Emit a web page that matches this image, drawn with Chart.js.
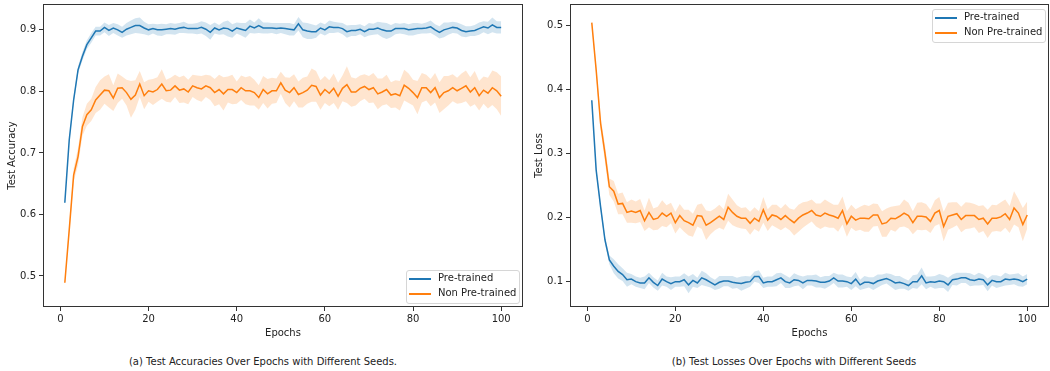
<!DOCTYPE html>
<html>
<head>
<meta charset="utf-8">
<script src="https://cdn.jsdelivr.net/npm/chart.js@4.4.1/dist/chart.umd.min.js"></script>
<style>
  body { margin: 0; background: #fff; font-family: "DejaVu Sans", sans-serif; }
  #page { position: relative; width: 1050px; height: 371px; overflow: hidden; }
  .panel { position: absolute; top: 0; height: 345px; }
  .caption { position: absolute; top: 356px; font-size: 10px; color: #222; white-space: nowrap; transform: translateX(-50%); }
  .legend { position: absolute; background: rgba(255,255,255,0.85); border: 1px solid #d6d6d6; border-radius: 3px; font-size: 10px; color: #222; }
  .legend .item { position: absolute; left: 31px; white-space: nowrap; }
  .legend .swatch { position: absolute; left: -29px; top: 6px; width: 22px; height: 1.5px; }
</style>
</head>
<body>
<div id="page">
  <div class="panel" style="left:0;width:526px"><canvas id="accChart"></canvas></div>
  <div class="panel" style="left:527px;width:523px"><canvas id="lossChart"></canvas></div>

  <div class="legend" style="left:406px;top:270px;width:112px;height:32px">
    <div class="item" style="top:1px"><span class="swatch" style="background:#1f77b4"></span>Pre-trained</div>
    <div class="item" style="top:16px"><span class="swatch" style="background:#ff7f0e"></span>Non Pre-trained</div>
  </div>
  <div class="legend" style="left:932px;top:9px;width:112px;height:32px">
    <div class="item" style="top:1px"><span class="swatch" style="background:#1f77b4"></span>Pre-trained</div>
    <div class="item" style="top:16px"><span class="swatch" style="background:#ff7f0e"></span>Non Pre-trained</div>
  </div>

  <div class="caption" style="left:263px">(a) Test Accuracies Over Epochs with Different Seeds.</div>
  <div class="caption" style="left:794px">(b) Test Losses Over Epochs with Different Seeds</div>
</div>
<script>
const epochs = Array.from({ length: 100 }, (_, i) => i + 1);
const xTicks = [0, 20, 40, 60, 80, 100];
const accTicks = [0.5, 0.6, 0.7, 0.8, 0.9];
const lossTicks = [0.1, 0.2, 0.3, 0.4, 0.5];

const accPre = [
  0.619, 0.721, 0.786, 0.835, 0.857, 0.876, 0.887, 0.898, 0.898, 0.904,
  0.899, 0.903, 0.900, 0.896, 0.901, 0.904, 0.907, 0.907, 0.903, 0.900,
  0.902, 0.900, 0.900, 0.901, 0.902, 0.901, 0.903, 0.904, 0.902, 0.902,
  0.902, 0.904, 0.901, 0.896, 0.903, 0.900, 0.903, 0.902, 0.898, 0.903,
  0.901, 0.899, 0.906, 0.903, 0.907, 0.903, 0.903, 0.903, 0.902, 0.903,
  0.902, 0.901, 0.900, 0.910, 0.900, 0.898, 0.897, 0.897, 0.903, 0.900,
  0.905, 0.904, 0.904, 0.902, 0.897, 0.899, 0.899, 0.901, 0.897, 0.901,
  0.901, 0.903, 0.900, 0.898, 0.898, 0.902, 0.902, 0.902, 0.900, 0.901,
  0.902, 0.902, 0.903, 0.905, 0.900, 0.896, 0.900, 0.902, 0.904, 0.903,
  0.899, 0.897, 0.898, 0.899, 0.902, 0.905, 0.903, 0.908, 0.904, 0.904
];
const accPreStd = [
  0.003, 0.004, 0.005, 0.006, 0.007, 0.007, 0.008, 0.007, 0.007, 0.008,
  0.009, 0.008, 0.009, 0.009, 0.010, 0.011, 0.012, 0.013, 0.010, 0.009,
  0.008, 0.009, 0.010, 0.008, 0.009, 0.009, 0.008, 0.009, 0.008, 0.008,
  0.009, 0.010, 0.011, 0.012, 0.009, 0.008, 0.010, 0.013, 0.011, 0.009,
  0.010, 0.012, 0.011, 0.009, 0.012, 0.009, 0.009, 0.008, 0.009, 0.008,
  0.009, 0.010, 0.009, 0.011, 0.012, 0.013, 0.012, 0.010, 0.009, 0.009,
  0.010, 0.009, 0.008, 0.009, 0.010, 0.009, 0.009, 0.008, 0.009, 0.010,
  0.009, 0.010, 0.012, 0.013, 0.010, 0.009, 0.008, 0.009, 0.009, 0.010,
  0.009, 0.008, 0.009, 0.010, 0.009, 0.010, 0.012, 0.010, 0.009, 0.009,
  0.010, 0.009, 0.008, 0.009, 0.010, 0.009, 0.010, 0.012, 0.010, 0.010
];
const accNon = [
  0.489, 0.575, 0.664, 0.694, 0.743, 0.762, 0.770, 0.786, 0.794, 0.802,
  0.801, 0.789, 0.805, 0.806, 0.798, 0.787, 0.794, 0.812, 0.793, 0.801,
  0.799, 0.803, 0.812, 0.801, 0.802, 0.809, 0.802, 0.804, 0.799, 0.809,
  0.806, 0.804, 0.809, 0.806, 0.798, 0.803, 0.796, 0.803, 0.803, 0.798,
  0.806, 0.801, 0.801, 0.798, 0.790, 0.803, 0.796, 0.801, 0.801, 0.814,
  0.802, 0.798, 0.806, 0.795, 0.798, 0.802, 0.810, 0.808, 0.794, 0.803,
  0.797, 0.805, 0.792, 0.805, 0.811, 0.799, 0.799, 0.805, 0.808, 0.803,
  0.806, 0.796, 0.799, 0.803, 0.794, 0.796, 0.793, 0.810, 0.805, 0.798,
  0.790, 0.806, 0.806, 0.798, 0.806, 0.790, 0.798, 0.801, 0.806, 0.801,
  0.805, 0.809, 0.799, 0.806, 0.793, 0.802, 0.797, 0.806, 0.801, 0.792
];
const accNonStd = [
  0.005, 0.008, 0.011, 0.014, 0.015, 0.018, 0.018, 0.021, 0.024, 0.022,
  0.027, 0.021, 0.024, 0.018, 0.021, 0.030, 0.024, 0.021, 0.022, 0.018,
  0.021, 0.020, 0.024, 0.018, 0.020, 0.018, 0.021, 0.022, 0.020, 0.018,
  0.020, 0.021, 0.018, 0.020, 0.022, 0.024, 0.027, 0.021, 0.024, 0.018,
  0.020, 0.022, 0.024, 0.021, 0.020, 0.022, 0.024, 0.021, 0.020, 0.018,
  0.021, 0.024, 0.022, 0.021, 0.024, 0.022, 0.027, 0.025, 0.024, 0.022,
  0.021, 0.024, 0.022, 0.021, 0.030, 0.024, 0.022, 0.021, 0.020, 0.022,
  0.024, 0.025, 0.022, 0.024, 0.021, 0.022, 0.024, 0.025, 0.024, 0.021,
  0.027, 0.024, 0.021, 0.022, 0.024, 0.025, 0.027, 0.024, 0.022, 0.021,
  0.024, 0.025, 0.024, 0.027, 0.024, 0.022, 0.025, 0.028, 0.030, 0.032
];

const lossPre = [
  0.383, 0.274, 0.217, 0.165, 0.134, 0.124, 0.116, 0.111, 0.103, 0.104,
  0.100, 0.098, 0.098, 0.106, 0.099, 0.094, 0.104, 0.100, 0.097, 0.100,
  0.100, 0.103, 0.095, 0.102, 0.098, 0.106, 0.103, 0.099, 0.095, 0.099,
  0.101, 0.101, 0.099, 0.098, 0.097, 0.099, 0.100, 0.108, 0.108, 0.098,
  0.100, 0.100, 0.103, 0.106, 0.100, 0.098, 0.103, 0.102, 0.098, 0.102,
  0.102, 0.101, 0.099, 0.099, 0.101, 0.106, 0.101, 0.101, 0.100, 0.097,
  0.104, 0.095, 0.099, 0.099, 0.097, 0.101, 0.103, 0.105, 0.102, 0.098,
  0.099, 0.097, 0.094, 0.100, 0.100, 0.109, 0.098, 0.100, 0.099, 0.101,
  0.100, 0.095, 0.103, 0.104, 0.106, 0.106, 0.103, 0.102, 0.104, 0.103,
  0.095, 0.102, 0.100, 0.100, 0.104, 0.103, 0.104, 0.103, 0.100, 0.104
];
const lossPreStd = [
  0.003, 0.005, 0.005, 0.006, 0.007, 0.011, 0.011, 0.010, 0.011, 0.008,
  0.008, 0.008, 0.010, 0.008, 0.008, 0.008, 0.010, 0.008, 0.010, 0.008,
  0.008, 0.010, 0.013, 0.010, 0.008, 0.011, 0.010, 0.008, 0.008, 0.010,
  0.008, 0.008, 0.010, 0.008, 0.011, 0.010, 0.008, 0.008, 0.010, 0.008,
  0.008, 0.008, 0.010, 0.008, 0.010, 0.008, 0.010, 0.008, 0.010, 0.008,
  0.008, 0.010, 0.008, 0.010, 0.008, 0.008, 0.010, 0.010, 0.008, 0.010,
  0.011, 0.008, 0.010, 0.008, 0.010, 0.010, 0.008, 0.008, 0.010, 0.011,
  0.010, 0.008, 0.008, 0.010, 0.011, 0.013, 0.010, 0.008, 0.010, 0.011,
  0.010, 0.011, 0.008, 0.010, 0.008, 0.008, 0.010, 0.008, 0.010, 0.008,
  0.010, 0.008, 0.010, 0.008, 0.010, 0.008, 0.008, 0.010, 0.008, 0.008
];
const lossNon = [
  0.504, 0.430, 0.347, 0.300, 0.248, 0.241, 0.221, 0.222, 0.208, 0.210,
  0.208, 0.211, 0.195, 0.208, 0.197, 0.199, 0.207, 0.202, 0.207, 0.192,
  0.203, 0.195, 0.192, 0.188, 0.203, 0.202, 0.188, 0.192, 0.197, 0.202,
  0.197, 0.216, 0.208, 0.202, 0.199, 0.199, 0.191, 0.199, 0.194, 0.212,
  0.196, 0.204, 0.202, 0.197, 0.203, 0.197, 0.192, 0.199, 0.204, 0.207,
  0.211, 0.204, 0.202, 0.207, 0.204, 0.202, 0.199, 0.211, 0.190, 0.202,
  0.196, 0.199, 0.199, 0.198, 0.204, 0.204, 0.190, 0.192, 0.199, 0.198,
  0.202, 0.207, 0.203, 0.192, 0.202, 0.202, 0.201, 0.194, 0.207, 0.211,
  0.186, 0.202, 0.204, 0.206, 0.197, 0.203, 0.203, 0.203, 0.197, 0.199,
  0.190, 0.199, 0.199, 0.201, 0.206, 0.197, 0.215, 0.207, 0.189, 0.204
];
const lossNonStd = [
  0.004, 0.008, 0.010, 0.013, 0.013, 0.016, 0.016, 0.017, 0.016, 0.018,
  0.017, 0.018, 0.016, 0.023, 0.017, 0.018, 0.020, 0.017, 0.016, 0.017,
  0.018, 0.017, 0.020, 0.018, 0.017, 0.020, 0.023, 0.018, 0.017, 0.018,
  0.016, 0.021, 0.020, 0.017, 0.016, 0.017, 0.018, 0.017, 0.016, 0.020,
  0.017, 0.016, 0.018, 0.017, 0.018, 0.017, 0.020, 0.021, 0.020, 0.018,
  0.017, 0.018, 0.020, 0.021, 0.020, 0.018, 0.021, 0.022, 0.020, 0.018,
  0.017, 0.018, 0.021, 0.020, 0.018, 0.017, 0.020, 0.022, 0.018, 0.020,
  0.017, 0.021, 0.020, 0.018, 0.021, 0.022, 0.020, 0.018, 0.020, 0.021,
  0.023, 0.021, 0.020, 0.018, 0.020, 0.021, 0.020, 0.018, 0.021, 0.020,
  0.022, 0.021, 0.020, 0.023, 0.022, 0.021, 0.026, 0.022, 0.026, 0.021
];

const BLUE = '#1f77b4';
const ORANGE = '#ff7f0e';
const FONT = { family: 'DejaVu Sans', size: 10 };

Chart.defaults.color = '#222';
Chart.defaults.animation = false;

// draws the full matplotlib style frame around the plot area
const framePlugin = {
    id: 'frame',
    afterDraw(chart) {
        const { ctx, chartArea: a } = chart;
        ctx.save();
        ctx.strokeStyle = '#333';
        ctx.lineWidth = 1;
        ctx.strokeRect(Math.round(a.left) + 0.5, Math.round(a.top) + 0.5,
            Math.round(a.right - a.left) - 1, Math.round(a.bottom - a.top) - 1);
        ctx.restore();
    }
};

function toPoints(values) {
    return values.map((v, i) => ({ x: epochs[i], y: v }));
}

function lineSet(label, values, color) {
    return {
        label, data: toPoints(values), borderColor: color, borderWidth: 1.5,
        pointRadius: 0, fill: false, tension: 0
    };
}

function bandSets(values, spread, color) {
    return [
        { label: '_upper', data: toPoints(values.map((v, i) => v + spread[i])),
          borderWidth: 0, pointRadius: 0, fill: false },
        { label: '_lower', data: toPoints(values.map((v, i) => v - spread[i])),
          borderWidth: 0, pointRadius: 0, fill: '-1', backgroundColor: color }
    ];
}

function makeChart(id, yTitle, yMin, yMax, yTicks, rightPad, sets) {
    return new Chart(document.getElementById(id), {
        type: 'line',
        data: { datasets: sets },
        options: {
            responsive: true,
            maintainAspectRatio: false,
            layout: { padding: { top: 4, right: rightPad, left: 0, bottom: 0 } },
            plugins: { legend: { display: false }, tooltip: { enabled: false } },
            scales: {
                x: {
                    type: 'linear', min: -3.95, max: 104.95,
                    afterBuildTicks: s => { s.ticks = xTicks.map(v => ({ value: v })); },
                    afterFit: s => { s.height = 38; s.paddingLeft = 0; s.paddingRight = 0; },
                    grid: { display: true, drawOnChartArea: false, tickLength: 4, color: '#333' },
                    border: { display: false },
                    ticks: { font: FONT, padding: 2, maxRotation: 0 },
                    title: { display: true, text: 'Epochs', font: FONT, padding: { top: 0, bottom: 6 } }
                },
                y: {
                    type: 'linear', min: yMin, max: yMax,
                    afterBuildTicks: s => { s.ticks = yTicks.map(v => ({ value: v })); },
                    afterFit: s => { s.width = 43; s.paddingTop = 0; s.paddingBottom = 0; },
                    grid: { display: true, drawOnChartArea: false, tickLength: 4, color: '#333' },
                    border: { display: false },
                    ticks: { font: FONT, padding: 3, callback: v => v.toFixed(1) },
                    title: { display: true, text: yTitle, font: FONT, padding: { top: 6, bottom: 0 } }
                }
            }
        },
        plugins: [framePlugin]
    });
}

makeChart('accChart', 'Test Accuracy', 0.4496, 0.942, accTicks, 3, [
    lineSet('Pre-trained', accPre, BLUE),
    lineSet('Non Pre-trained', accNon, ORANGE),
    ...bandSets(accPre, accPreStd, 'rgba(31,119,180,0.2)'),
    ...bandSets(accNon, accNonStd, 'rgba(255,127,14,0.2)')
]);

makeChart('lossChart', 'Test Loss', 0.0605, 0.533, lossTicks, 1, [
    lineSet('Pre-trained', lossPre, BLUE),
    lineSet('Non Pre-trained', lossNon, ORANGE),
    ...bandSets(lossPre, lossPreStd, 'rgba(31,119,180,0.2)'),
    ...bandSets(lossNon, lossNonStd, 'rgba(255,127,14,0.2)')
]);
</script>
</body>
</html>
